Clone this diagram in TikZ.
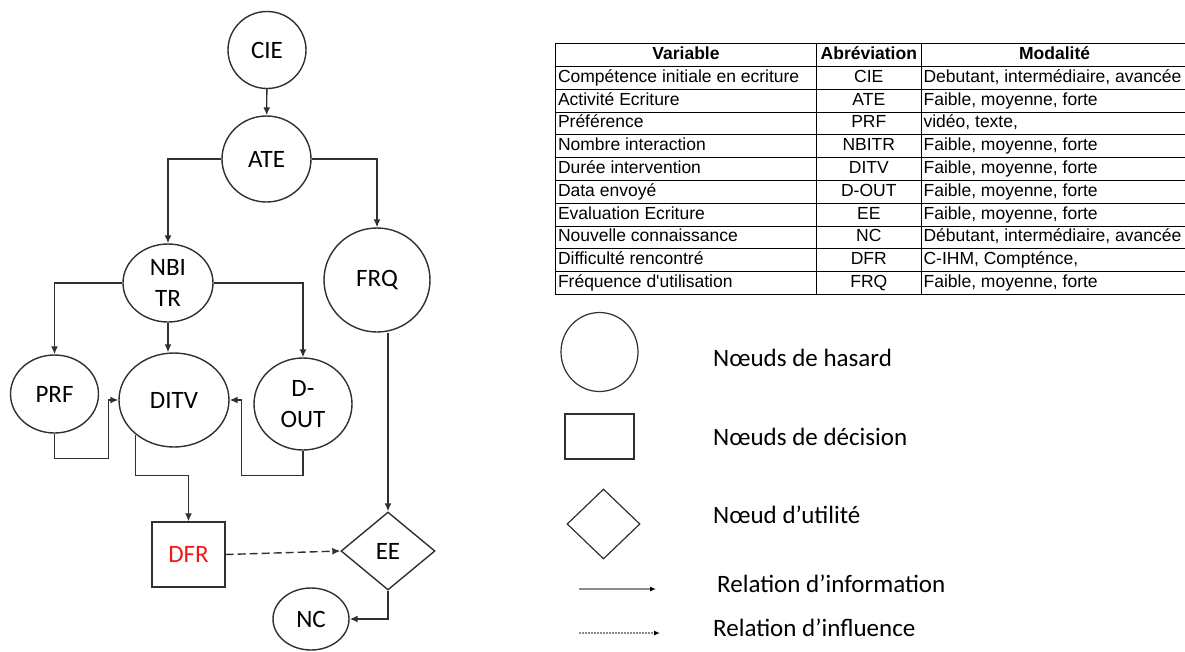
\documentclass[tikz,border=0pt]{standalone}
\usepackage{fontspec}
\usepackage{array}
\setmainfont{Carlito}
\newfontfamily\tablefont{Liberation Sans}
\usetikzlibrary{arrows.meta,positioning,shapes.geometric,calc}
\definecolor{linegray}{HTML}{303030}
\definecolor{legendgray}{HTML}{8C8C8C}
\definecolor{dfrred}{HTML}{F01818}

\begin{document}
\begin{tikzpicture}[
  x=1pt,y=-1pt,
  chance/.style={ellipse,draw=linegray,line width=1.4pt,inner sep=0pt,align=center,
               font=\fontsize{25}{31}\selectfont},
  decision/.style={rectangle,draw=linegray,line width=1.4pt,inner sep=0pt,
               font=\fontsize{25}{31}\selectfont},
  utility/.style={diamond,draw=linegray,line width=1.4pt,inner sep=0pt,
               font=\fontsize{25}{31}\selectfont},
  arr/.style={-{Latex[length=8pt,width=7pt]},line width=1.4pt,draw=linegray},
  dasharr/.style={arr,dash pattern=on 8pt off 4pt},
  legarr/.style={-{Latex[length=6pt,width=5pt,color=black]},line width=1.3pt,draw=legendgray},
  legendtext/.style={anchor=west,inner sep=0pt,font=\fontsize{25}{28}\selectfont}
]
\useasboundingbox (0,0) rectangle (1185,651);

% influence diagram
\node[chance,minimum width=78pt,minimum height=77pt] (CIE) at (267,50) {CIE};
\node[chance,minimum width=89pt,minimum height=86pt] (ATE) at (266.5,159) {ATE};
\node[chance,minimum width=90pt,minimum height=78pt] (NBITR) at (168,283) {NBI\\TR};
\node[chance,minimum width=106pt,minimum height=104pt] (FRQ) at (377,280) {FRQ};
\node[chance,minimum width=88pt,minimum height=78pt] (PRF) at (54.5,394) {PRF};
\node[chance,minimum width=110pt,minimum height=94pt] (DITV) at (174,400) {DITV};
\node[chance,minimum width=98pt,minimum height=92pt] (DOUT) at (303,404) {D-\\OUT};
\node[decision,minimum width=73pt,minimum height=65pt,text=dfrred] (DFR) at (188.5,554.5) {DFR};
\node[utility,minimum width=94pt,minimum height=78pt] (EE) at (388,551) {EE};
\node[chance,minimum width=76pt,minimum height=62pt] (NC) at (311,619) {NC};

\draw[arr] (CIE) -- (ATE);
\draw[arr] (ATE.west) -| (NBITR.north);
\draw[arr] (ATE.east) -| (FRQ.north);
\draw[arr] (NBITR.west) -| (PRF.north);
\draw[arr] (NBITR.east) -| (DOUT.north);
\draw[arr] (NBITR.south) -- (NBITR.south |- DITV.north);
\draw[arr] (PRF.south) -- ++(0,25) -| ([xshift=-10pt]DITV.west) -- (DITV.west);
\draw[arr] (DOUT.south) -- ++(0,25) -| ([xshift=12pt]DITV.east) -- (DITV.east);
\draw[arr] (DITV.222) |- ([yshift=46pt]DFR.north) -- (DFR.north);
\draw[arr] (EE.north |- FRQ.south) -- (EE.north);
\draw[dasharr] (DFR.east) -- (EE.west);
\draw[arr] (EE.south) |- (NC.east);

% table of variables
\node[anchor=north west,inner sep=0pt,font=\tablefont\fontsize{17.5}{22}\selectfont] (vartable) at (555,43) {%
\setlength{\tabcolsep}{2pt}\setlength{\arrayrulewidth}{0.8pt}%
\begin{tabular}{|w{l}{256pt}|w{c}{100pt}|w{l}{262pt}}
\hline
\multicolumn{1}{|w{c}{256pt}|}{\textbf{Variable}} & \textbf{Abréviation} & \multicolumn{1}{w{c}{262pt}}{\textbf{Modalité}}\\ \hline
Compétence initiale en ecriture & CIE & Debutant, intermédiaire, avancée\\ \hline
Activité Ecriture & ATE & Faible, moyenne, forte\\ \hline
Préférence & PRF & vidéo, texte,\\ \hline
Nombre interaction & NBITR & Faible, moyenne, forte\\ \hline
Durée intervention & DITV & Faible, moyenne, forte\\ \hline
Data envoyé & D-OUT & Faible, moyenne, forte\\ \hline
Evaluation Ecriture & EE & Faible, moyenne, forte\\ \hline
Nouvelle connaissance & NC & Débutant, intermédiaire, avancée\\ \hline
Difficulté rencontré & DFR & C-IHM, Compténce,\\ \hline
Fréquence d'utilisation & FRQ & Faible, moyenne, forte\\ \hline
\end{tabular}};

% legend
\node[chance,minimum width=77pt,minimum height=79pt,line width=1.2pt] (legchance) at (599.5,352) {};
\node[decision,minimum width=69pt,minimum height=45pt,line width=1.2pt] (legdecision) at (599.5,436.5) {};
\node[utility,minimum width=73pt,minimum height=70pt,line width=1.2pt] (legutility) at (603.5,524) {};
\coordinate (infoA) at (579,589);
\coordinate (infoB) at (656,589);
\coordinate (inflA) at (579,633);
\coordinate (inflB) at (660,633);
\draw[legarr] (infoA) -- (infoB);
\draw[legarr,dash pattern=on 1.5pt off 1.5pt] (inflA) -- (inflB);

\node[legendtext] (lblhasard) at (713,358) {Nœuds de hasard};
\node[legendtext] (lbldecision) at (713,437) {Nœuds de décision};
\node[legendtext] (lblutilite) at (713,515) {Nœud d’utilité};
\node[legendtext] (lblinfo) at (717,584) {Relation d’information};
\node[legendtext] (lblinfl) at (713,628) {Relation d’influence};
\end{tikzpicture}
\end{document}
